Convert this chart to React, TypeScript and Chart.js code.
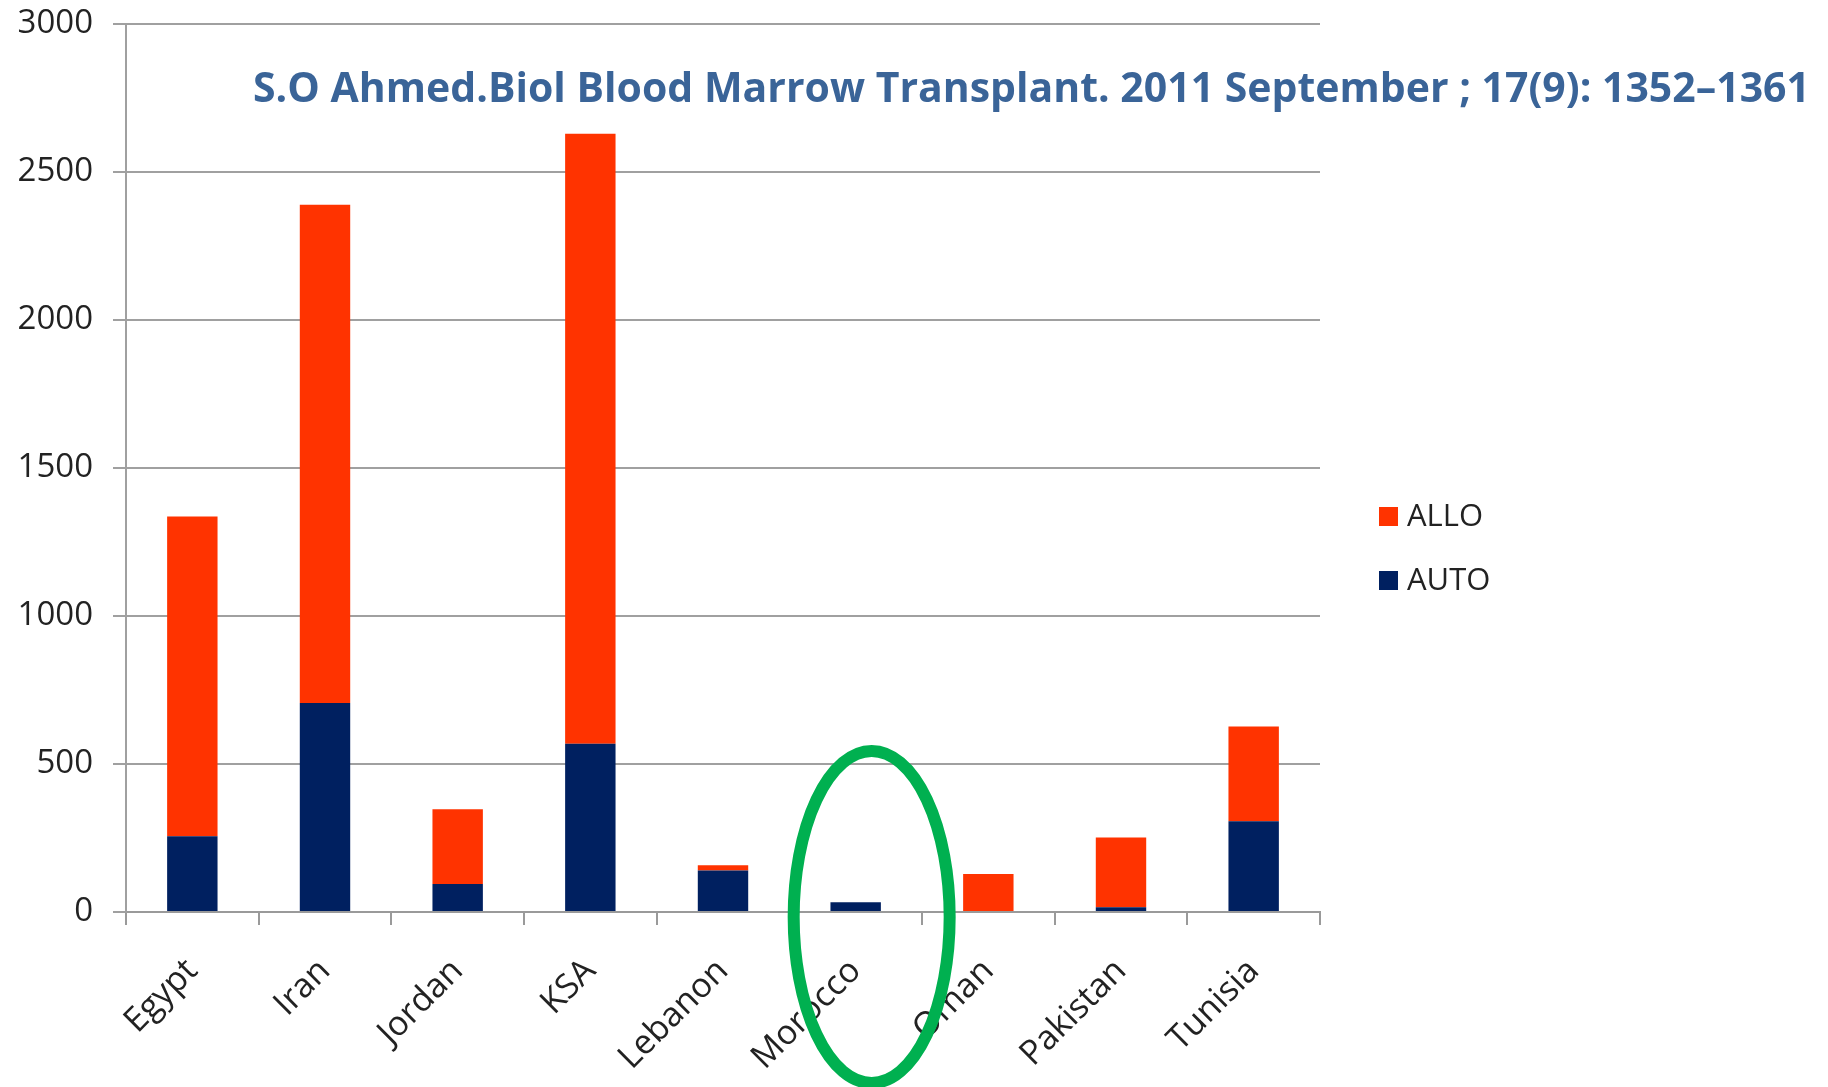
import React, { useEffect, useRef } from "react";
import { Chart, registerables } from "chart.js";

Chart.register(...registerables);

const categories = ["Egypt", "Iran", "Jordan", "KSA", "Lebanon", "Morocco", "Oman", "Pakistan", "Tunisia"];
const autoValues = [256, 706, 95, 568, 140, 33, 0, 16, 307];
const alloValues = [1080, 1683, 252, 2061, 18, 0, 128, 236, 320];
const seriesNames = ["ALLO", "AUTO"];
const yTicks = [0, 500, 1000, 1500, 2000, 2500, 3000];
const titleText = "S.O Ahmed.Biol Blood Marrow Transplant. 2011 September ; 17(9): 1352\u20131361";

const ALLO_COLOR = "#ff3300";
const AUTO_COLOR = "#002060";
const TEXT_FONT = "'Open Sans', 'DejaVu Sans', sans-serif";

const overlayPlugin = {
  id: "overlay",
  afterDraw(chart: any) {
    const ctx = chart.ctx as CanvasRenderingContext2D;
    ctx.save();
    // Title (citation)
    ctx.font = `bold 42px ${TEXT_FONT}`;
    ctx.fillStyle = "#3a6498";
    ctx.textBaseline = "alphabetic";
    ctx.textAlign = "left";
    const target = 1557;
    const w = ctx.measureText(titleText).width;
    ctx.save();
    ctx.translate(253, 102);
    ctx.scale(target / w, 1);
    ctx.fillText(titleText, 0, 0);
    ctx.restore();

    // Legend
    const items = [
      { name: seriesNames[0], color: ALLO_COLOR, y: 516 },
      { name: seriesNames[1], color: AUTO_COLOR, y: 580 },
    ];
    ctx.font = `31px ${TEXT_FONT}`;
    ctx.textBaseline = "middle";
    for (const it of items) {
      ctx.fillStyle = it.color;
      ctx.fillRect(1379, it.y - 9, 19, 19);
      ctx.fillStyle = "#222";
      ctx.fillText(it.name, 1407, it.y + 1);
    }

    // Green highlight ellipse around Morocco
    const xs = chart.scales.x;
    const cx = xs.getPixelForValue(5);
    ctx.beginPath();
    ctx.ellipse(cx + 16, 917, 78, 166, 0, 0, Math.PI * 2);
    ctx.lineWidth = 12;
    ctx.strokeStyle = "#00b050";
    ctx.stroke();
    ctx.restore();
  },
};

export default function App() {
  const ref = useRef<HTMLCanvasElement | null>(null);
  useEffect(() => {
    if (!ref.current) return;
    const chart = new Chart(ref.current, {
      type: "bar",
      data: {
        labels: categories,
        datasets: [
          {
            label: seriesNames[1],
            data: autoValues,
            backgroundColor: AUTO_COLOR,
            barPercentage: 0.38,
            categoryPercentage: 1,
          },
          {
            label: seriesNames[0],
            data: alloValues,
            backgroundColor: ALLO_COLOR,
            barPercentage: 0.38,
            categoryPercentage: 1,
          },
        ],
      },
      options: {
        responsive: false,
        animation: false,
        layout: { padding: { top: 24, right: 508, left: 0, bottom: 0 } },
        plugins: {
          legend: { display: false },
          tooltip: { enabled: false },
          title: { display: false },
        },
        scales: {
          x: {
            stacked: true,
            grid: {
              display: true,
              drawOnChartArea: false,
              drawTicks: true,
              tickLength: 13,
              offset: true,
              color: "#9a9a9a",
              lineWidth: 2,
            },
            border: { display: true, color: "#9a9a9a", width: 2 },
            ticks: {
              maxRotation: 45,
              minRotation: 45,
              padding: 26,
              color: "#222",
              font: { size: 34, family: TEXT_FONT },
            },
            afterFit: (scale: any) => {
              scale.height = 175;
              scale.paddingLeft = 0;
              scale.paddingRight = 0;
            },
          },
          y: {
            stacked: true,
            min: 0,
            max: 3000,
            afterBuildTicks: (scale: any) => {
              scale.ticks = yTicks.map((v) => ({ value: v }));
            },
            grid: {
              color: "#a0a0a0",
              lineWidth: 2,
              tickLength: 13,
            },
            border: { display: true, color: "#a0a0a0", width: 2 },
            ticks: {
              padding: 20,
              color: "#222",
              font: { size: 33, family: TEXT_FONT },
              callback: (v: any) => String(v),
            },
            afterFit: (scale: any) => {
              scale.width = 126;
              scale.paddingTop = 0;
              scale.paddingBottom = 0;
            },
          },
        },
      },
      plugins: [overlayPlugin],
    });
    return () => chart.destroy();
  }, []);
  return (
    <div style={{ position: "fixed", left: 0, top: 0, width: 1828, height: 1087, background: "#fff" }}>
      <canvas ref={ref} width={1828} height={1087} style={{ display: "block" }} />
    </div>
  );
}
